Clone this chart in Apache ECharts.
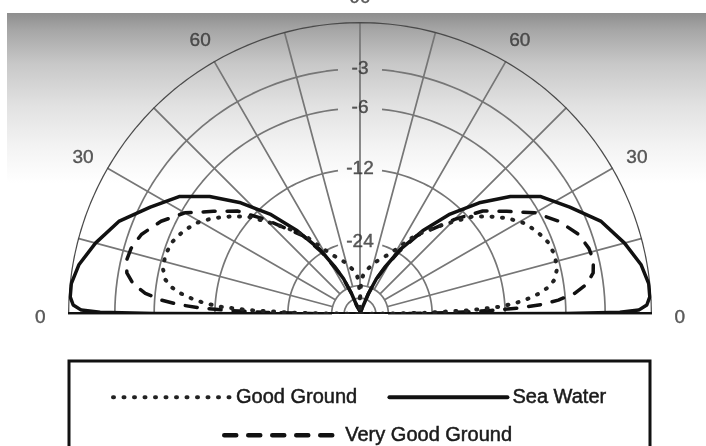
<!DOCTYPE html>
<html>
<head>
<meta charset="utf-8">
<script src="https://cdn.jsdelivr.net/npm/echarts@6/dist/echarts.min.js"></script>
<style>
html, body { margin: 0; padding: 0; background: #fff; }
#chart { width: 706px; height: 446px; }
</style>
</head>
<body>
<div id="chart"></div>
<script>
// elevation angle (deg) vs relative gain (dB), read from the right lobe; the left lobe is its mirror
var seaWaterAngles = [0, 0.15, 0.4, 0.8, 1.8, 3.4, 6, 10, 15, 21, 27, 33, 38, 43, 48, 53, 58, 62, 65, 67.5, 69, 75, 90];
var seaWaterDb = [-99, -6, -2, -0.8, -0.3, -0.1, -0.1, -0.4, -1.1, -2.1, -3.7, -5.2, -7.3, -10.0, -13.3, -17.7, -23.0, -29.3, -34.6, -44, -60, -85, -99];

var veryGoodAngles = [0, 0.5, 1, 1.5, 2.2, 3, 4, 5.5, 7.5, 10, 13, 16, 20, 25, 30, 35, 40, 45, 50, 54, 58, 62, 65, 67.5, 69, 75, 90];
var veryGoodDb = [-99, -30, -19, -14, -10.2, -8.1, -6.6, -5.2, -4.2, -3.6, -3.4, -3.5, -3.9, -4.9, -6.3, -8.4, -10.3, -13.4, -16.8, -19.0, -23.6, -29.8, -35, -44.5, -60, -85, -99];

var goodAngles = [0, 1, 2, 3, 4, 5, 6.5, 8, 10, 13, 17, 21, 25, 29, 33, 37, 41, 45, 50, 55, 60, 65, 70, 75, 80, 85, 88, 89.5, 90];
var goodDb = [-99, -26, -16.5, -12.5, -10.8, -9.6, -8.3, -7.4, -6.7, -6.3, -6.2, -6.4, -6.9, -7.6, -8.7, -10.1, -11.6, -13.9, -16.5, -19.2, -23.0, -25.8, -27.6, -29.5, -31.8, -34.0, -38, -50, -99];

var ringDb = [-3, -6, -12, -24, -40, -50];
var ringLabels = ['-3', '-6', '-12', '-24'];
var angleTicks = [0, 30, 60, 90, 120, 150, 180];
var angleTickLabels = ['0', '30', '60', '90', '60', '30', '0'];

var FONT = '"Liberation Sans", Arial, sans-serif';
var R = 292;

// ARRL log scale: radius shrinks by 0.89 for every 2 dB
function arrl(db) {
	return Math.pow(0.89, -db / 2);
}

// right side 0..90, then mirrored left side 90..180
function lobe(angles, dbs) {
	var pts = [];
	for (var i = 0; i < angles.length; i++) pts.push([arrl(dbs[i]), angles[i]]);
	for (var j = angles.length - 1; j >= 0; j--) pts.push([arrl(dbs[j]), 180 - angles[j]]);
	return pts;
}

// half circle at a given level, broken round the label on the vertical if it has one
function arcPoints(db, pts) {
	var r = arrl(db);
	var gap = 0;
	if (ringLabels.indexOf(String(db)) >= 0) {
		gap = Math.asin(Math.min(1, 22 / (R * r))) * 180 / Math.PI;
	}
	var a;
	if (gap) {
		for (a = 0; a < 90 - gap; a += 2) pts.push([r, a]);
		pts.push([r, 90 - gap]);
		pts.push(['-', '-']);
		pts.push([r, 90 + gap]);
		for (a = Math.ceil((90 + gap) / 2) * 2; a <= 180; a += 2) pts.push([r, a]);
	} else {
		for (a = 0; a <= 180; a += 2) pts.push([r, a]);
	}
	pts.push(['-', '-']);
	return pts;
}

function ringPoints() {
	var pts = [];
	ringDb.forEach(function (db) { arcPoints(db, pts); });
	return pts;
}

var curveBase = {
	type: 'line',
	coordinateSystem: 'polar',
	polarIndex: 0,
	symbol: 'none',
	clip: false,
	z: 4
};

var labelStyle = {
	show: true, position: 'inside', formatter: '{b}',
	fontSize: 19, color: '#333', fontFamily: FONT,
	textBorderColor: '#333', textBorderWidth: 0.4
};

var legendText = {
	fontSize: 20, color: '#1a1a1a', fontFamily: FONT,
	textBorderColor: '#1a1a1a', textBorderWidth: 0.5
};

var option = {
	animation: false,
	backgroundColor: '#fff',
	graphic: [
		{
			type: 'rect', z: -100, silent: true,
			shape: { x: 7, y: 13, width: 699, height: 170 },
			style: {
				fill: {
					type: 'linear', x: 0, y: 0, x2: 0, y2: 1,
					colorStops: [
						{ offset: 0, color: '#8e8e8e' },
						{ offset: 0.1, color: '#a6a6a6' },
						{ offset: 0.3, color: '#c8c8c8' },
						{ offset: 0.55, color: '#e2e2e2' },
						{ offset: 0.8, color: '#f4f4f4' },
						{ offset: 1, color: '#ffffff' }
					]
				}
			}
		},
		{
			type: 'rect', z: 1, silent: true,
			shape: { x: 69, y: 361, width: 581, height: 120 },
			style: { fill: '#fff', stroke: '#111', lineWidth: 3 }
		}
	],
	legend: [
		{
			data: ['Good Ground', 'Sea Water'],
			left: 106, top: 382,
			itemWidth: 118, itemHeight: 14, itemGap: 30,
			selectedMode: false,
			itemStyle: { opacity: 0 },
			lineStyle: { width: 4 },
			textStyle: legendText
		},
		{
			data: ['Very Good Ground'],
			left: 217, top: 420,
			itemWidth: 116, itemHeight: 14,
			selectedMode: false,
			itemStyle: { opacity: 0 },
			lineStyle: { width: 4.5 },
			textStyle: legendText
		}
	],
	polar: [
		{ center: [360, 314], radius: [0, R] },
		{ center: [360, 314], radius: [28, R] }
	],
	angleAxis: [
		{
			polarIndex: 0, type: 'value', min: 0, max: 180,
			startAngle: 0, endAngle: 180, clockwise: false,
			axisLine: { show: false }, axisTick: { show: false },
			axisLabel: { show: false }, splitLine: { show: false }
		},
		{
			polarIndex: 1, type: 'value', min: 0, max: 180, interval: 15,
			startAngle: 0, endAngle: 180, clockwise: false,
			axisLine: { show: false },
			axisTick: { show: false },
			axisLabel: { show: false },
			splitLine: { show: true, lineStyle: { color: '#767676', width: 1.7 } }
		}
	],
	radiusAxis: [
		{
			polarIndex: 0, type: 'value', min: 0, max: 1,
			axisLine: { show: false }, axisTick: { show: false },
			axisLabel: { show: false }, splitLine: { show: false }
		},
		{
			polarIndex: 1, type: 'value', min: 0, max: 1,
			axisLine: { show: false }, axisTick: { show: false },
			axisLabel: { show: false }, splitLine: { show: false }
		}
	],
	series: [
		{
			type: 'line', coordinateSystem: 'polar', polarIndex: 0,
			symbol: 'none', silent: true, clip: false, z: 1,
			connectNulls: false,
			lineStyle: { color: '#767676', width: 1.7 },
			data: ringPoints()
		},
		{
			// outer 0 dB ring
			type: 'line', coordinateSystem: 'polar', polarIndex: 0,
			symbol: 'none', silent: true, clip: false, z: 2,
			lineStyle: { color: '#4a4a4a', width: 2.5 },
			data: arcPoints(0, [])
		},
		{
			type: 'line', coordinateSystem: 'polar', polarIndex: 0,
			symbol: 'none', silent: true, clip: false, z: 3,
			lineStyle: { color: '#111', width: 4 },
			data: [[1, 0], [1, 180]]
		},
		{
			type: 'scatter', coordinateSystem: 'polar', polarIndex: 0,
			symbolSize: 0, silent: true, clip: false, z: 6,
			label: Object.assign({}, labelStyle, { offset: [0, 4] }),
			data: angleTicks.map(function (a, i) {
				return { name: angleTickLabels[i], value: [1.095, a] };
			})
		},
		{
			type: 'scatter', coordinateSystem: 'polar', polarIndex: 0,
			symbolSize: 0, silent: true, clip: false, z: 6,
			label: labelStyle,
			data: ringLabels.map(function (l) {
				return { name: l, value: [arrl(Number(l)), 90] };
			})
		},
		Object.assign({}, curveBase, {
			name: 'Sea Water',
			lineStyle: { color: '#111', width: 3.5, cap: 'round', join: 'round' },
			data: lobe(seaWaterAngles, seaWaterDb)
		}),
		Object.assign({}, curveBase, {
			name: 'Very Good Ground',
			lineStyle: { color: '#111', width: 3.5, type: [12, 12], cap: 'round', join: 'round' },
			data: lobe(veryGoodAngles, veryGoodDb)
		}),
		Object.assign({}, curveBase, {
			name: 'Good Ground',
			lineStyle: { color: '#222', width: 4, type: [1, 9.5], cap: 'round', join: 'round' },
			data: lobe(goodAngles, goodDb)
		})
	]
};

var myChart = echarts.init(document.getElementById('chart'));
myChart.setOption(option);
</script>
</body>
</html>
